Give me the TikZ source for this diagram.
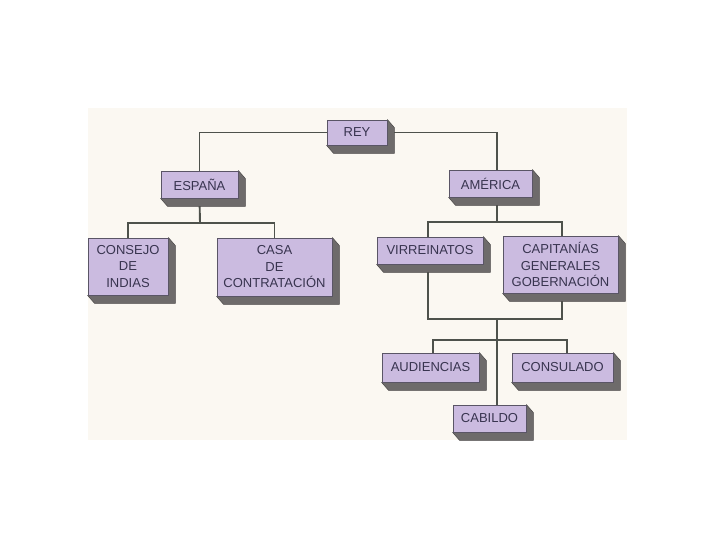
\documentclass[tikz,border=0pt]{standalone}
\usepackage{fontspec}
\setmainfont{Liberation Sans}
\usetikzlibrary{calc}
\pgfdeclarelayer{background}
\pgfdeclarelayer{shade}
\pgfsetlayers{background,shade,main}
\definecolor{paper}{HTML}{FBF8F2}
\definecolor{boxfill}{HTML}{CBBBE0}
\definecolor{boxline}{HTML}{5A5566}
\definecolor{shadowc}{HTML}{6E6B6B}
\definecolor{shadowline}{HTML}{4A4848}
\definecolor{linkc}{HTML}{4E524C}
\definecolor{textc}{HTML}{38344F}
\tikzset{
  orgbox/.style={draw=boxline, line width=0.8pt, fill=boxfill, text=textc,
    inner sep=1pt, align=center, font=\fontsize{13}{16.5}\selectfont},
  link/.style={draw=linkc, line width=1.9pt},
  extrude/.style={fill=shadowc, draw=shadowline, line width=0.5pt, line join=round}
}
% \obox{name}{x}{y}{width}{height}{text}
\newcommand{\obox}[6]{%
  \node[orgbox, minimum width=#4pt, minimum height=#5pt] (#1) at (#2,#3) {#6};
  \begin{pgfonlayer}{shade}
    \path[extrude] (#1.north east) -- ($(#1.north east)+(7,8)$) -- ($(#1.south east)+(7,8)$)
      -- ($(#1.south west)+(7,8)$) -- (#1.south west) -- (#1.south east) -- cycle;
  \end{pgfonlayer}
}
\begin{document}
\begin{tikzpicture}[x=1pt,y=-1pt]
\useasboundingbox (0,0) rectangle (720,540);
\begin{pgfonlayer}{background}
\fill[white] (0,0) rectangle (720,540);
\fill[paper] (88,108) rectangle (627,440);
\end{pgfonlayer}

\obox{rey}{357}{132.5}{60}{25}{REY}
\obox{espana}{199.5}{184.5}{77}{27}{ESPAÑA}
\obox{america}{490.5}{183.5}{83}{27}{AMÉRICA}
\obox{consejo}{128}{266.5}{80}{57}{CONSEJO\\DE\\INDIAS}
\obox{casa}{274.5}{267}{115}{58}{CASA\\DE\\CONTRATACIÓN}
\obox{virreinatos}{430}{250.5}{106}{27}{VIRREINATOS}
\obox{capitanias}{560.5}{264.5}{115}{57}{CAPITANÍAS\\GENERALES\\GOBERNACIÓN}
\obox{audiencias}{430.5}{367.5}{97}{29}{AUDIENCIAS}
\obox{consulado}{562.5}{367.5}{101}{29}{CONSULADO}
\obox{cabildo}{489.5}{418.5}{73}{27}{CABILDO}

\coordinate (je) at (200,223);
\coordinate (ja) at (497,222);
\coordinate (jb) at (497,319);
\coordinate (jc) at (497,340);

\begin{pgfonlayer}{background}
\draw[link] (rey.west) -| (espana.north);
\draw[link] (rey.east) -| ([xshift=6.5pt]america.north);
\draw[link] (espana.south) -- (je);
\draw[link] (consejo.north) -- (consejo.north |- je) -- (casa.north |- je) -- (casa.north);
\draw[link] ([xshift=6.5pt]america.south) -- (ja);
\draw[link] ([xshift=-2pt]virreinatos.center |- ja) -- ([xshift=1.5pt]capitanias.center |- ja)
  -- ([xshift=1.5pt]capitanias.center |- jb) -- ([xshift=-2pt]virreinatos.center |- jb) -- cycle;
\draw[link] (jb) -- (jb |- cabildo.north);
\draw[link] ([xshift=2.5pt]audiencias.north) -- ([xshift=2.5pt]audiencias.north |- jc)
  -- ([xshift=4.5pt]consulado.north |- jc) -- ([xshift=4.5pt]consulado.north);
\end{pgfonlayer}
\end{tikzpicture}
\end{document}
